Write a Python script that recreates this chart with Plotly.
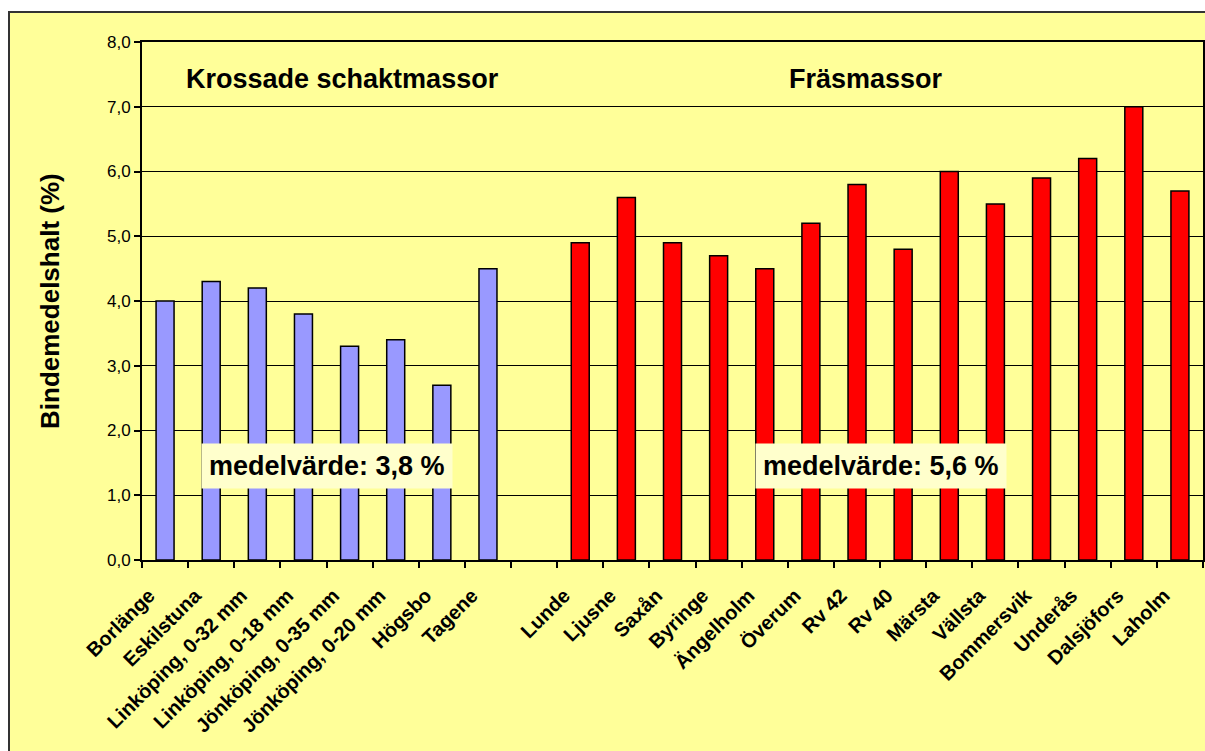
import plotly.graph_objects as go

krossade_names = ["Borlänge", "Eskilstuna", "Linköping, 0-32 mm", "Linköping, 0-18 mm",
                  "Jönköping, 0-35 mm", "Jönköping, 0-20 mm", "Högsbo", "Tagene"]
krossade_values = [4.0, 4.3, 4.2, 3.8, 3.3, 3.4, 2.7, 4.5]

fras_names = ["Lunde", "Ljusne", "Saxån", "Byringe", "Ängelholm", "Överum", "Rv 42", "Rv 40",
              "Märsta", "Vällsta", "Bommersvik", "Underås", "Dalsjöfors", "Laholm"]
fras_values = [4.9, 5.6, 4.9, 4.7, 4.5, 5.2, 5.8, 4.8, 6.0, 5.5, 5.9, 6.2, 7.0, 5.7]

gap = [" "]
categories = krossade_names + gap + fras_names
y_ticks = [0, 1, 2, 3, 4, 5, 6, 7, 8]

FONT = "Liberation Sans, Arial, sans-serif"

W, H = 1205, 751
PL, PR, PT, PB = 142, 1203, 42, 560  # plot area in screen pixels
ML, MT = PL, PT
MR = W - PR
MB = H - PB
PW, PH = PR - PL, PB - PT


def px_x(x):
    return (x - PL) / PW


def px_y(y):
    return (PB - y) / PH


fig = go.Figure()
fig.add_trace(go.Bar(x=krossade_names, y=krossade_values, marker_color="#9999FF",
                     marker_line=dict(color="#000000", width=1.5), width=0.39,
                     showlegend=False, hoverinfo="x+y"))
fig.add_trace(go.Bar(x=fras_names, y=fras_values, marker_color="#FF0000",
                     marker_line=dict(color="#000000", width=1.5), width=0.39,
                     showlegend=False, hoverinfo="x+y"))

fig.update_xaxes(type="category", categoryorder="array", categoryarray=categories,
                 range=[-0.5, len(categories) - 0.5],
                 tickson="boundaries", ticks="outside", ticklen=6, tickcolor="#000000",
                 tickwidth=1.5, tickangle=-45, ticklabelshift=-16, ticklabelstandoff=14,
                 tickfont=dict(family=FONT, size=20, color="#000000", weight="bold"),
                 showline=True, linecolor="#000000", linewidth=2, mirror=True,
                 showgrid=False, fixedrange=True)
fig.update_yaxes(range=[0, 8], tickvals=y_ticks, tickformat=".1f", ticks="outside",
                 ticklen=6, tickcolor="#000000", tickwidth=1.5,
                 tickfont=dict(family=FONT, size=17, color="#000000"),
                 showline=True, linecolor="#000000", linewidth=2, mirror=True,
                 showgrid=True, gridcolor="#000000", gridwidth=1, zeroline=False,
                 fixedrange=True)

fig.add_shape(type="rect", xref="paper", yref="paper",
              x0=px_x(9), x1=px_x(1240), y0=px_y(800), y1=px_y(12),
              fillcolor="#FFFF99", line=dict(color="#333333", width=2), layer="below")

common = dict(xref="paper", yref="paper", showarrow=False, xanchor="center", yanchor="middle")
fig.add_annotation(x=px_x(50), y=px_y(301), text="<b>Bindemedelshalt (%)</b>", textangle=-90,
                   font=dict(family=FONT, size=26, color="#000000"), **common)
fig.add_annotation(x=px_x(342), y=px_y(79), text="<b>Krossade schaktmassor</b>",
                   font=dict(family=FONT, size=27, color="#000000"), **common)
fig.add_annotation(x=px_x(866), y=px_y(79), text="<b>Fräsmassor</b>",
                   font=dict(family=FONT, size=27, color="#000000"), **common)
fig.add_annotation(x=px_x(327), y=px_y(466), text="<b>medelvärde: 3,8 %</b>",
                   bgcolor="#FFFFCC", borderpad=7,
                   font=dict(family=FONT, size=27, color="#000000"), **common)
fig.add_annotation(x=px_x(881), y=px_y(466), text="<b>medelvärde: 5,6 %</b>",
                   bgcolor="#FFFFCC", borderpad=7,
                   font=dict(family=FONT, size=27, color="#000000"), **common)

fig.update_layout(width=W, height=H, margin=dict(l=ML, r=MR, t=MT, b=MB, autoexpand=False),
                  paper_bgcolor="#FFFFFF", plot_bgcolor="#FFFFCC", separators=", ",
                  bargap=0.6, barmode="overlay", showlegend=False,
                  font=dict(family=FONT, color="#000000"))

fig.write_html("out.html", config={"displayModeBar": False},
               post_script="document.body.style.margin='0';document.body.style.overflow='hidden';")
